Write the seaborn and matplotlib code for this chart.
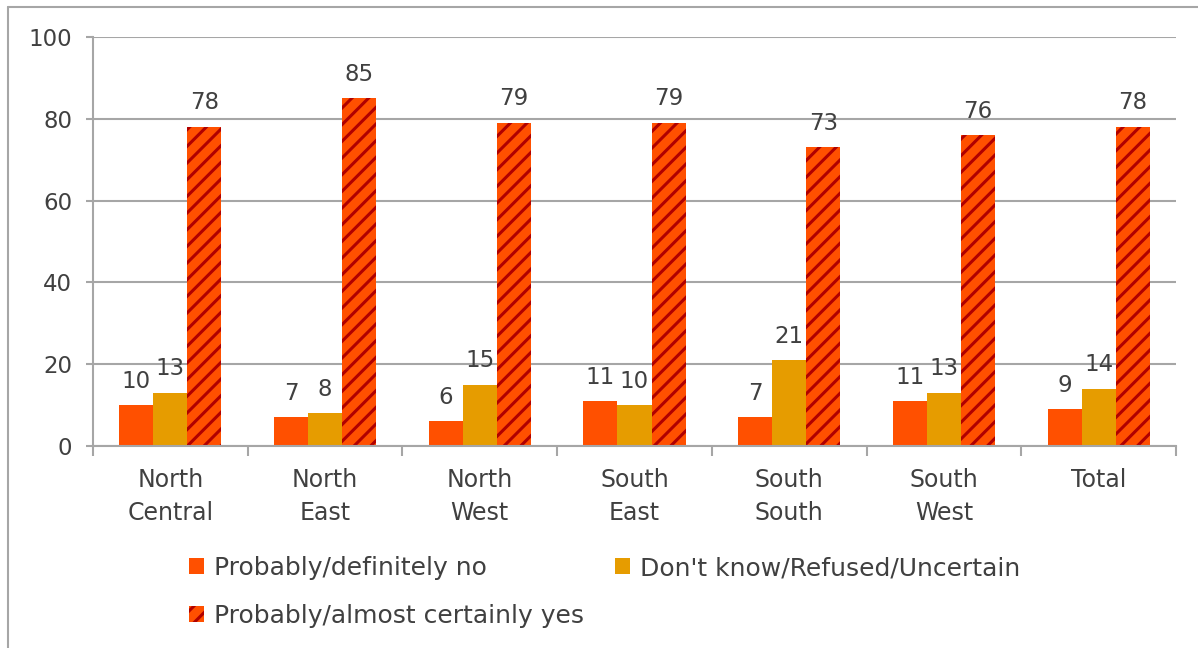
import matplotlib
matplotlib.use("Agg")
import matplotlib.pyplot as plt
from matplotlib.lines import Line2D
from matplotlib.patches import Patch
import numpy as np
import pandas as pd
import seaborn as sns

regions = ["North\nCentral", "North\nEast", "North\nWest", "South\nEast",
           "South\nSouth", "South\nWest", "Total"]
series = ["Probably/definitely no", "Don't know/Refused/Uncertain",
          "Probably/almost certainly yes"]
no_vals = [10, 7, 6, 11, 7, 11, 9]
unsure_vals = [13, 8, 15, 10, 21, 13, 14]
yes_vals = [78, 85, 79, 79, 73, 76, 78]
y_ticks = [0, 20, 40, 60, 80, 100]

colors = ["#FF5000", "#E69C00", "#FF5000"]
hatch_color = "#B00000"
text_color = "#404040"
line_color = "#A6A6A6"

df = pd.DataFrame({
    "region": regions * 3,
    "series": [series[0]] * 7 + [series[1]] * 7 + [series[2]] * 7,
    "value": no_vals + unsure_vals + yes_vals,
})

sns.set_theme(style="white")
plt.rcParams["font.family"] = ["DejaVu Sans"]
plt.rcParams["hatch.linewidth"] = 2.2

fig = plt.figure(figsize=(11.98, 6.48), dpi=100)
ax = fig.add_axes([93 / 1198, 1 - 446 / 648, (1176 - 93) / 1198, (446 - 37) / 648])

sns.barplot(data=df, x="region", y="value", hue="series", order=regions,
            hue_order=series, palette=colors, width=0.66, gap=0,
            saturation=1, ax=ax, legend=False, linewidth=0)

# stripe the "yes" bars
yes_container = ax.containers[2]
for bar in yes_container:
    bar.set_hatch("//")
    bar.set_edgecolor(hatch_color)
    bar.set_linewidth(0)

for cont, vals in zip(ax.containers, [no_vals, unsure_vals, yes_vals]):
    ax.bar_label(cont, labels=[str(v) for v in vals], padding=9,
                 fontsize=16.5, color=text_color)

ax.set_ylim(0, 100)
ax.set_xlim(-0.5, len(regions) - 0.5)
ax.set_yticks(y_ticks)
ax.set_yticklabels([str(t) for t in y_ticks])
ax.set_xlabel("")
ax.set_ylabel("")
ax.yaxis.grid(True, color=line_color, linewidth=1.5)
ax.set_axisbelow(True)
for side in ["top", "right"]:
    ax.spines[side].set_visible(False)
for side in ["left", "bottom"]:
    ax.spines[side].set_color(line_color)
    ax.spines[side].set_linewidth(1.5)

ax.tick_params(axis="y", which="major", left=True, length=5, width=1.5,
               color=line_color, pad=10, labelsize=16.5, labelcolor=text_color)
ax.tick_params(axis="x", which="major", bottom=False, length=0, pad=16,
               labelsize=17, labelcolor=text_color)
ax.set_xticks(np.arange(-0.5, len(regions) + 0.5, 1), minor=True)
ax.tick_params(axis="x", which="minor", bottom=True, length=7, width=1.5,
               color=line_color)
for lab in ax.get_xticklabels():
    lab.set_linespacing(1.45)

handles = [Patch(facecolor=colors[0], edgecolor=colors[0], linewidth=0),
           Patch(facecolor=colors[2], edgecolor=hatch_color, hatch="//", linewidth=0),
           Patch(facecolor=colors[1], edgecolor=colors[1], linewidth=0)]
labels = [series[0], series[2], series[1]]
fig.legend(handles, labels, loc="upper left",
           bbox_to_anchor=(189 / 1198, 1 - 556 / 648), ncol=2, frameon=False,
           fontsize=18, handlelength=0.6, handleheight=0.6, handletextpad=0.4,
           labelspacing=0.96, columnspacing=1.22, borderpad=0, borderaxespad=0,
           labelcolor=text_color)

# outer chart frame
fig.add_artist(Line2D([8 / 1198, 1], [1 - 7 / 648, 1 - 7 / 648],
                      transform=fig.transFigure, color=line_color, linewidth=1.5))
fig.add_artist(Line2D([8 / 1198, 8 / 1198], [0, 1 - 7 / 648],
                      transform=fig.transFigure, color=line_color, linewidth=1.5))

fig.savefig("out.png", dpi=100, facecolor="white")
